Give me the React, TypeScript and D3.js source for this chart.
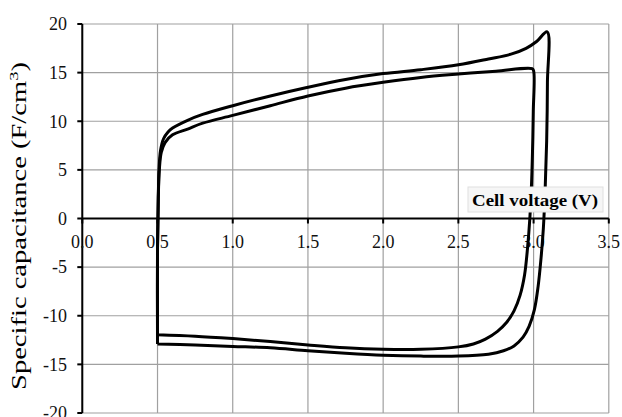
import React from "react";
import * as d3 from "d3";

const xTicks = [0, 0.5, 1.0, 1.5, 2.0, 2.5, 3.0, 3.5];
const yTicks = [-20, -15, -10, -5, 0, 5, 10, 15, 20];

// Outer loop (0.5–3.1 V window): cell voltage (V)
const outerV = [0.5, 0.5, 0.505, 0.51, 0.52, 0.54, 0.57, 0.6, 0.7, 0.8, 1.0, 1.25, 1.5, 1.75, 2.0, 2.25, 2.5, 2.7, 2.85, 2.95, 3.02, 3.09, 3.092, 3.087, 3.077, 3.065, 3.05, 3.03, 3.005, 2.97, 2.93, 2.87, 2.8, 2.7, 2.5, 2.25, 2.0, 1.75, 1.5, 1.25, 1.0, 0.75, 0.5];
// Outer loop: specific capacitance (F/cm3)
const outerC = [-12.9, -3, 2, 5, 7, 8.2, 8.9, 9.3, 10.1, 10.7, 11.6, 12.6, 13.5, 14.3, 14.9, 15.3, 15.8, 16.4, 16.9, 17.5, 18.2, 19.2, 14, 8, 3, -1, -4, -7, -9.4, -11.1, -12.2, -13.1, -13.6, -13.95, -14.15, -14.15, -14.05, -13.85, -13.6, -13.3, -13.15, -13.0, -12.9];

// Inner loop (0.5–3.0 V window)
const innerV = [0.5, 0.5, 0.505, 0.512, 0.525, 0.55, 0.6, 0.7, 0.8, 1.0, 1.25, 1.5, 1.75, 2.0, 2.25, 2.5, 2.75, 2.99, 3.0, 2.998, 2.993, 2.985, 2.975, 2.96, 2.94, 2.91, 2.87, 2.82, 2.76, 2.68, 2.6, 2.5, 2.25, 2.0, 1.75, 1.5, 1.25, 1.0, 0.75, 0.5];
const innerC = [-11.95, -3, 2, 5, 6.8, 7.8, 8.6, 9.2, 9.8, 10.6, 11.6, 12.6, 13.4, 14.0, 14.5, 14.85, 15.15, 15.4, 15.2, 11, 7, 3, 0, -3, -5.8, -7.9, -9.5, -10.7, -11.6, -12.4, -12.9, -13.2, -13.45, -13.45, -13.3, -13.0, -12.65, -12.35, -12.1, -11.95];

const W = 622;
const H = 417;

export default function App() {
  const x = d3.scaleLinear().domain([0, 3.5]).range([82.3, 608.8]);
  const y = d3.scaleLinear().domain([-20, 20]).range([413, 24]);

  const line = d3
    .line<[number, number]>()
    .x((d) => x(d[0]))
    .y((d) => y(d[1]))
    .curve(d3.curveCatmullRom.alpha(0.5));

  const outer: [number, number][] = outerV.map((v, i) => [v, outerC[i]]);
  const inner: [number, number][] = innerV.map((v, i) => [v, innerC[i]]);

  const font = "'Liberation Serif', 'Times New Roman', serif";
  const grid = "#a0a0a0";

  return (
    <svg
      width={W}
      height={H}
      style={{ position: "absolute", left: 0, top: 0, background: "#fff" }}
    >
      <rect x={0} y={0} width={W} height={H} fill="#fff" />
      {/* grid */}
      {xTicks.map((t) => (
        <line key={"gx" + t} x1={x(t)} x2={x(t)} y1={y(20)} y2={y(-20)} stroke={grid} strokeWidth={1.2} />
      ))}
      {yTicks.map((t) => (
        <line key={"gy" + t} x1={x(0)} x2={x(3.5)} y1={y(t)} y2={y(t)} stroke={grid} strokeWidth={1.2} />
      ))}
      {/* axes */}
      <line x1={x(0)} x2={x(0)} y1={y(20)} y2={y(-20)} stroke="#000" strokeWidth={2} />
      <line x1={x(0)} x2={x(3.5)} y1={y(0)} y2={y(0)} stroke="#000" strokeWidth={2} />
      {yTicks.map((t) => (
        <line key={"ty" + t} x1={x(0) - 5} x2={x(0)} y1={y(t)} y2={y(t)} stroke="#000" strokeWidth={2} />
      ))}
      {xTicks.map((t) => (
        <line key={"tx" + t} x1={x(t)} x2={x(t)} y1={y(0)} y2={y(0) + 5} stroke="#000" strokeWidth={2} />
      ))}
      {/* tick labels */}
      {yTicks.map((t) => (
        <text key={"ly" + t} x={67} y={y(t)} dy="0.35em" textAnchor="end" fontFamily={font} fontSize={18} fill="#111">
          {t}
        </text>
      ))}
      {xTicks.map((t) => (
        <text key={"lx" + t} x={x(t)} y={248} textAnchor="middle" fontFamily={font} fontSize={18} fill="#111">
          {t.toFixed(1)}
        </text>
      ))}
      {/* curves */}
      <path d={line(outer) ?? ""} fill="none" stroke="#000" strokeWidth={3} strokeLinejoin="round" />
      <path d={line(inner) ?? ""} fill="none" stroke="#000" strokeWidth={3} strokeLinejoin="round" />
      {/* x axis title box */}
      <rect x={468} y={187} width={135} height={25} fill="#f6f6f6" stroke="#e0e0e0" strokeWidth={1} />
      <text
        x={472}
        y={206}
        textLength={126}
        lengthAdjust="spacingAndGlyphs"
        fontFamily={font}
        fontSize={17}
        fontWeight="bold"
        fill="#000"
      >
        Cell voltage (V)
      </text>
      {/* y axis title */}
      <text
        transform={`translate(26, 390) rotate(-90)`}
        textLength={328}
        lengthAdjust="spacingAndGlyphs"
        fontFamily={font}
        fontSize={20}
        fill="#000"
      >
        Specific capacitance (F/cm<tspan dy={-8} fontSize={13}>3</tspan><tspan dy={8}>)</tspan>
      </text>
    </svg>
  );
}
